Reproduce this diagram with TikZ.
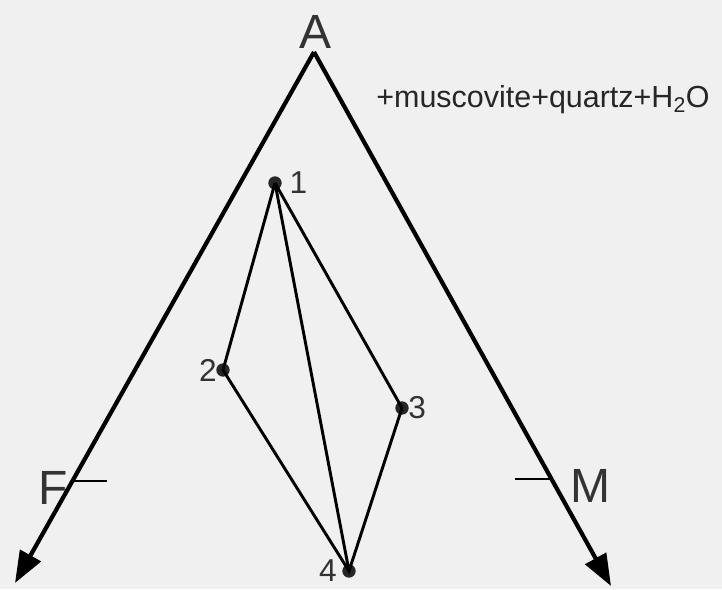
\documentclass[tikz,border=0pt]{standalone}
\usepackage{fontspec}
\setmainfont{Liberation Sans}
\usetikzlibrary{arrows.meta,calc}

\begin{document}
\begin{tikzpicture}[x=0.3mm,y=-0.3mm,
  axis/.style={line width=3.6pt, -{Triangle[length=9.5mm,width=7mm]}},
  tie/.style={line width=2.5pt},
  tick/.style={line width=2pt},
  pt/.style={circle, fill=black!85, inner sep=0pt, minimum size=4mm},
  corner/.style={font=\fontsize{41}{44}\selectfont, text=black!80},
  num/.style={font=\fontsize{27}{30}\selectfont, text=black!80}]
  % paper and frame of the picture
  \fill[black!6] (0,0) rectangle (722,589);
  \useasboundingbox (0,0) rectangle (722,589);
  % the triangle sides
  \coordinate (apex) at (314,52);
  \coordinate (endF) at (15,583);
  \coordinate (endM) at (611,586);
  \draw[axis] (apex) -- (endF);
  \draw[axis] (apex) -- (endM);
  \node[corner] (labA) at (316,32) {A};
  \node (phase) at (543,100) [font=\fontsize{26}{30}\selectfont, text=black!85]
        {+muscovite+quartz+H\textsubscript{2}O};
  % F and M ticks
  \coordinate (tickF) at ($(apex)!0.808!(endF)$);
  \coordinate (tickM) at ($(apex)!0.7996!(endM)$);
  \draw[tick] (tickF) -- ++(35,0) coordinate (tickFend);
  \draw[tick] (tickM) -- ++(-36,0) coordinate (tickMend);
  \node[corner] (labF) at (53,488) {F};
  \node[corner] (labM) at (590,486) {M};
  % compositions 1 to 4
  \node[pt, label={[num, xshift=3pt]right:1}] (p1) at (275,183) {};
  \node[pt, label={[num, xshift=4pt]left:2}] (p2) at (223,370) {};
  \node[pt, label={[num, xshift=-4pt]right:3}] (p3) at (402,408) {};
  \node[pt, label={[num, xshift=-1pt]left:4}] (p4) at (349,571) {};
  \draw[tie] (p1.center) -- (p2.center) -- (p4.center) -- (p3.center) -- (p1.center);
  \draw[tie] (p1.center) -- (p4.center);
\end{tikzpicture}
\end{document}
